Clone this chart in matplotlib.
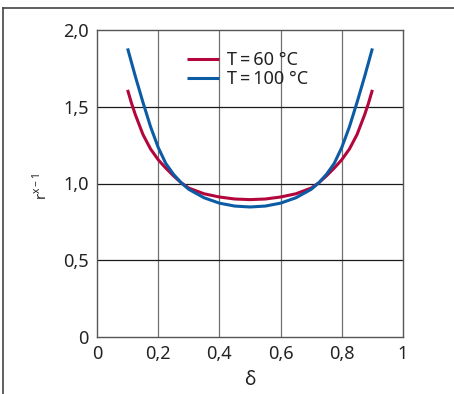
import matplotlib
matplotlib.use("Agg")
import matplotlib.pyplot as plt
from matplotlib.lines import Line2D

# delta values and r^(x-1) for the two temperatures
delta = [0.100, 0.1125, 0.125, 0.150, 0.175, 0.200, 0.225, 0.250, 0.275, 0.300,
         0.350, 0.400, 0.450, 0.500, 0.550, 0.600, 0.650, 0.700,
         0.725, 0.750, 0.775, 0.800, 0.825, 0.850, 0.875, 0.8875, 0.900]
r_60 = [1.61, 1.525, 1.45, 1.32, 1.225, 1.155, 1.10, 1.05, 1.005, 0.970,
        0.933, 0.912, 0.899, 0.895, 0.899, 0.912, 0.933, 0.970,
        1.005, 1.05, 1.10, 1.155, 1.225, 1.32, 1.45, 1.525, 1.61]
r_100 = [1.88, 1.79, 1.70, 1.53, 1.37, 1.235, 1.13, 1.06, 1.005, 0.962,
         0.907, 0.872, 0.853, 0.847, 0.853, 0.872, 0.907, 0.962,
         1.005, 1.06, 1.13, 1.235, 1.37, 1.53, 1.70, 1.79, 1.88]

x_ticks = [0, 0.2, 0.4, 0.6, 0.8, 1]
x_labels = ["0", "0,2", "0,4", "0,6", "0,8", "1"]
y_ticks = [0, 0.5, 1.0, 1.5, 2.0]
y_labels = ["0", "0,5", "1,0", "1,5", "2,0"]

plt.rcParams["font.family"] = ["Noto Sans", "DejaVu Sans"]
text_color = "#222222"

fig = plt.figure(figsize=(4.54, 3.94), dpi=100)
ax = fig.add_axes([97 / 454, 1 - 337 / 394, 306 / 454, 307 / 394])

ax.plot(delta, r_60, color="#b3063c", lw=2.2, solid_capstyle="butt",
        solid_joinstyle="round", label="T\u2009=\u200960 °C")
ax.plot(delta, r_100, color="#0b5ca5", lw=2.2, solid_capstyle="butt",
        solid_joinstyle="round", label="T\u2009=\u2009100 °C")

ax.set_xlim(0, 1)
ax.set_ylim(0, 2)
ax.set_xticks(x_ticks)
ax.set_xticklabels(x_labels)
ax.set_yticks(y_ticks)
ax.set_yticklabels(y_labels)
ax.tick_params(length=0, labelsize=13, colors=text_color, pad=6)

# grid: vertical lines grey, horizontal lines dark
for xv in x_ticks[1:-1]:
    ax.axvline(xv, color="#707070", lw=0.9, zorder=0)
for yv in y_ticks[1:-1]:
    ax.axhline(yv, color="#1a1a1a", lw=0.9, zorder=0)
for s in ax.spines.values():
    s.set_color("#555555")
    s.set_linewidth(1.0)

ax.set_xlabel("δ", fontsize=14, color=text_color, labelpad=5)
ax.set_ylabel("r$^{\\mathregular{x-1}}$", fontsize=10.5, color=text_color)
ax.yaxis.set_label_coords(-0.15, 0.49)

ax.legend(loc="upper left", bbox_to_anchor=(0.27, 0.955), frameon=False,
          fontsize=13, handlelength=1.8, handletextpad=0.4,
          labelspacing=0.05, borderaxespad=0, labelcolor=text_color)

# frame around the figure on the left and top
fig.add_artist(Line2D([3 / 454, 3 / 454], [0, 1 - 8 / 394],
                      color="#444444", lw=1.2, transform=fig.transFigure))
fig.add_artist(Line2D([3 / 454, 1], [1 - 8 / 394, 1 - 8 / 394],
                      color="#444444", lw=1.2, transform=fig.transFigure))

fig.savefig("out.png", dpi=100)
